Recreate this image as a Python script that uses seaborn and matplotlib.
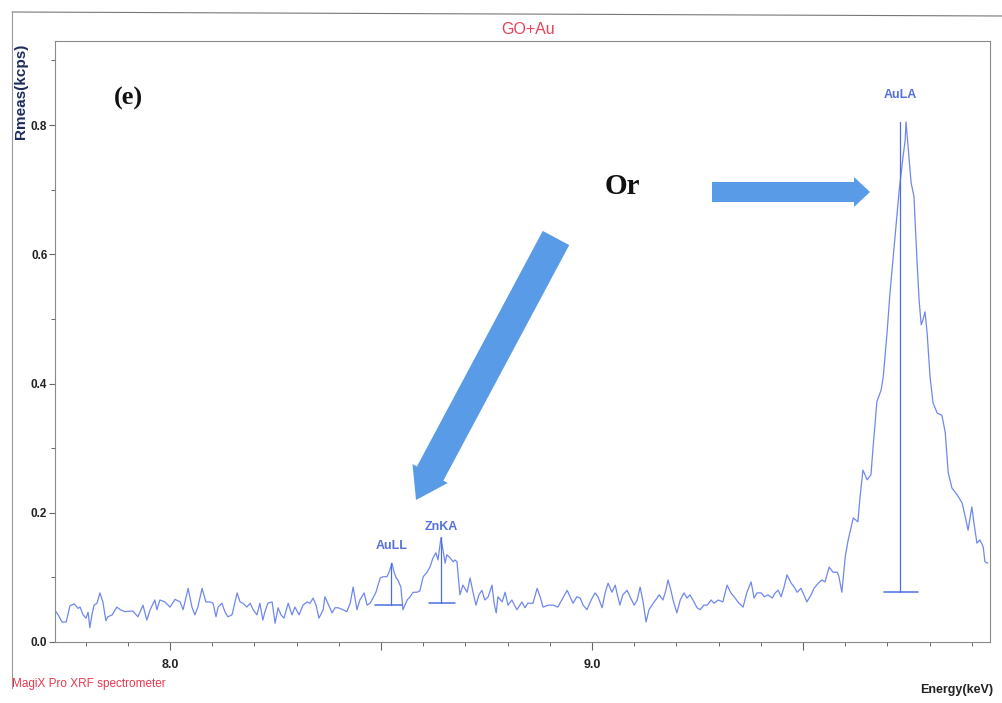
import matplotlib
matplotlib.use("Agg")
import matplotlib.pyplot as plt
import seaborn as sns
import pandas as pd
from matplotlib.patches import FancyArrow
from matplotlib.lines import Line2D
from matplotlib.transforms import Affine2D
from matplotlib.ticker import MultipleLocator, FixedLocator, FixedFormatter

# ---------------- data ----------------
energy_kev = [
    7.725, 7.735, 7.744, 7.754, 7.763, 7.773, 7.782, 7.787, 7.794, 7.801,
    7.806, 7.810, 7.815, 7.820, 7.827, 7.834, 7.841, 7.848, 7.853, 7.863,
    7.874, 7.882, 7.893, 7.912, 7.924, 7.936, 7.945, 7.953, 7.964, 7.969,
    7.976, 7.988, 8.000, 8.012, 8.024, 8.031, 8.043, 8.052, 8.059, 8.066,
    8.076, 8.085, 8.095, 8.102, 8.109, 8.114, 8.123, 8.130, 8.137, 8.147,
    8.159, 8.166, 8.173, 8.182, 8.190, 8.197, 8.206, 8.213, 8.220, 8.225,
    8.232, 8.242, 8.249, 8.256, 8.263, 8.270, 8.280, 8.289, 8.296, 8.306,
    8.315, 8.325, 8.332, 8.339, 8.346, 8.353, 8.363, 8.367, 8.374, 8.384,
    8.391, 8.398, 8.410, 8.419, 8.427, 8.434, 8.443, 8.450, 8.460, 8.467,
    8.474, 8.481, 8.488, 8.498, 8.505, 8.514, 8.519, 8.526, 8.531, 8.536,
    8.540, 8.547, 8.552, 8.562, 8.569, 8.576, 8.585, 8.592, 8.600, 8.609,
    8.616, 8.623, 8.630, 8.635, 8.642, 8.647, 8.652, 8.656, 8.664, 8.671,
    8.675, 8.680, 8.687, 8.694, 8.704, 8.711, 8.718, 8.725, 8.732, 8.739,
    8.746, 8.754, 8.763, 8.768, 8.773, 8.777, 8.787, 8.794, 8.801, 8.810,
    8.822, 8.834, 8.841, 8.848, 8.860, 8.870, 8.877, 8.884, 8.896, 8.908,
    8.919, 8.931, 8.941, 8.948, 8.955, 8.964, 8.972, 8.979, 8.988, 8.998,
    9.007, 9.014, 9.024, 9.031, 9.038, 9.047, 9.055, 9.059, 9.066, 9.073,
    9.083, 9.090, 9.100, 9.107, 9.114, 9.121, 9.128, 9.135, 9.145, 9.154,
    9.159, 9.168, 9.175, 9.180, 9.187, 9.192, 9.201, 9.209, 9.218, 9.225,
    9.232, 9.239, 9.249, 9.256, 9.265, 9.273, 9.282, 9.289, 9.299, 9.310,
    9.320, 9.329, 9.339, 9.348, 9.358, 9.367, 9.377, 9.384, 9.391, 9.401,
    9.408, 9.417, 9.427, 9.434, 9.441, 9.448, 9.455, 9.462, 9.472, 9.479,
    9.486, 9.495, 9.502, 9.509, 9.519, 9.526, 9.536, 9.545, 9.552, 9.562,
    9.571, 9.581, 9.585, 9.592, 9.600, 9.607, 9.619, 9.630, 9.635, 9.642,
    9.652, 9.661, 9.666, 9.675, 9.685, 9.690, 9.699, 9.706, 9.713, 9.720,
    9.728, 9.737, 9.742, 9.744, 9.749, 9.756, 9.763, 9.765, 9.770, 9.775,
    9.780, 9.784, 9.789, 9.794, 9.801, 9.808, 9.818, 9.829, 9.837, 9.844,
    9.853, 9.865, 9.877, 9.886, 9.891, 9.900, 9.905, 9.912, 9.919, 9.927,
    9.931, 9.938,
]
rmeas_kcps = [
    0.051, 0.042, 0.031, 0.031, 0.056, 0.059, 0.052, 0.054, 0.042, 0.037,
    0.046, 0.022, 0.042, 0.057, 0.060, 0.076, 0.062, 0.033, 0.039, 0.042,
    0.054, 0.050, 0.047, 0.048, 0.039, 0.057, 0.034, 0.050, 0.065, 0.050,
    0.065, 0.062, 0.054, 0.066, 0.062, 0.050, 0.083, 0.054, 0.042, 0.054,
    0.083, 0.062, 0.062, 0.060, 0.039, 0.054, 0.060, 0.047, 0.039, 0.042,
    0.076, 0.062, 0.060, 0.054, 0.060, 0.050, 0.042, 0.060, 0.034, 0.047,
    0.060, 0.062, 0.029, 0.053, 0.042, 0.037, 0.060, 0.042, 0.054, 0.042,
    0.057, 0.062, 0.060, 0.068, 0.057, 0.037, 0.050, 0.070, 0.060, 0.045,
    0.053, 0.053, 0.050, 0.047, 0.060, 0.085, 0.050, 0.065, 0.076, 0.057,
    0.060, 0.068, 0.077, 0.099, 0.101, 0.101, 0.108, 0.122, 0.108, 0.099,
    0.096, 0.085, 0.050, 0.065, 0.070, 0.077, 0.077, 0.079, 0.101, 0.108,
    0.116, 0.130, 0.138, 0.127, 0.161, 0.142, 0.122, 0.135, 0.130, 0.124,
    0.127, 0.124, 0.073, 0.088, 0.077, 0.099, 0.077, 0.057, 0.073, 0.080,
    0.065, 0.070, 0.088, 0.060, 0.045, 0.070, 0.062, 0.077, 0.057, 0.065,
    0.050, 0.062, 0.053, 0.060, 0.060, 0.083, 0.070, 0.054, 0.057, 0.057,
    0.054, 0.068, 0.080, 0.070, 0.060, 0.070, 0.068, 0.057, 0.050, 0.065,
    0.076, 0.070, 0.053, 0.076, 0.091, 0.077, 0.088, 0.076, 0.057, 0.073,
    0.080, 0.070, 0.057, 0.065, 0.085, 0.062, 0.031, 0.050, 0.060, 0.068,
    0.073, 0.065, 0.080, 0.096, 0.080, 0.065, 0.045, 0.065, 0.076, 0.068,
    0.073, 0.065, 0.053, 0.050, 0.057, 0.057, 0.065, 0.060, 0.065, 0.062,
    0.088, 0.076, 0.068, 0.060, 0.054, 0.077, 0.093, 0.068, 0.076, 0.076,
    0.070, 0.073, 0.068, 0.076, 0.080, 0.070, 0.085, 0.104, 0.091, 0.085,
    0.077, 0.083, 0.073, 0.062, 0.073, 0.083, 0.091, 0.096, 0.093, 0.116,
    0.108, 0.108, 0.101, 0.077, 0.132, 0.158, 0.192, 0.186, 0.224, 0.266,
    0.251, 0.259, 0.302, 0.372, 0.390, 0.410, 0.478, 0.540, 0.591, 0.642,
    0.700, 0.751, 0.777, 0.805, 0.766, 0.711, 0.689, 0.658, 0.591, 0.529,
    0.491, 0.498, 0.511, 0.478, 0.410, 0.370, 0.354, 0.351, 0.324, 0.262,
    0.238, 0.228, 0.215, 0.189, 0.173, 0.209, 0.184, 0.153, 0.158, 0.147,
    0.124, 0.122,
]

peak_labels = ["AuLL", "ZnKA", "AuLA"]
peak_energy = [8.524, 8.642, 9.730]
peak_top = [0.122, 0.163, 0.805]
peak_base = [0.057, 0.060, 0.077]
peak_bar_left = [8.486, 8.614, 9.692]
peak_bar_right = [8.550, 8.675, 9.773]
peak_label_y = [0.149, 0.178, 0.847]

x_major = [8.0, 8.5, 9.0, 9.5]
x_major_labels = ["8.0", "", "9.0", ""]
y_major = [0.0, 0.2, 0.4, 0.6, 0.8]
y_major_labels = ["0.0", "0.2", "0.4", "0.6", "0.8"]

title_text = "GO+Au"
ylabel_text = "Rmeas(kcps)"
xlabel_text = "Energy(keV)"
footer_text = "MagiX Pro XRF spectrometer"
panel_text = "(e)"
or_text = "Or"

# ---------------- style ----------------
sns.set_theme(style="white")
NARROW = ["Liberation Sans Narrow", "Liberation Sans", "DejaVu Sans"]
SERIF = ["Liberation Serif", "DejaVu Serif"]
plt.rcParams["font.family"] = NARROW

W, H = 1002, 703
fig = plt.figure(figsize=(W / 100, H / 100), dpi=100)
fig.patch.set_facecolor("white")
PX = Affine2D().scale(1 / W, -1 / H).translate(0, 1) + fig.transFigure

ax = fig.add_axes([55 / W, 1 - 642 / H, (990 - 55) / W, (642 - 41) / H])

LINE_C = "#6f88ee"
MARK_C = "#4c6fe0"
df = pd.DataFrame({"Energy": energy_kev, "Rmeas": rmeas_kcps})
sns.lineplot(data=df, x="Energy", y="Rmeas", ax=ax, color=LINE_C, lw=0.9,
             estimator=None, sort=False)

# peak markers
for lab, e, top, base, bl, br, ly in zip(peak_labels, peak_energy, peak_top,
                                         peak_base, peak_bar_left, peak_bar_right,
                                         peak_label_y):
    ax.plot([e, e], [base, top], color=MARK_C, lw=0.9)
    ax.plot([bl, br], [base, base], color=MARK_C, lw=1.1)
    ax.text(e, ly, lab, color="#5670e0", fontsize=9, fontweight="bold",
            ha="center", va="center", family=NARROW)

ax.set_xlim(7.7275, 9.943)
ax.set_ylim(0.0, 0.93)
ax.set_xlabel("")
ax.set_ylabel("")

ax.xaxis.set_major_locator(FixedLocator(x_major))
ax.xaxis.set_major_formatter(FixedFormatter(x_major_labels))
ax.xaxis.set_minor_locator(MultipleLocator(0.1))
ax.yaxis.set_major_locator(FixedLocator(y_major))
ax.yaxis.set_major_formatter(FixedFormatter(y_major_labels))
ax.yaxis.set_minor_locator(MultipleLocator(0.1))
ax.tick_params(axis="x", which="major", direction="out", length=6, width=0.8,
               color="#666666", labelsize=9, labelcolor="#222222", pad=6,
               bottom=True)
ax.tick_params(axis="y", which="major", direction="out", length=4, width=0.8,
               color="#666666", labelsize=8.5, labelcolor="#222222", pad=1.5,
               left=True)
ax.tick_params(axis="both", which="minor", direction="out", length=3, width=0.7,
               color="#666666", bottom=True, left=True)
for lbl in ax.get_xticklabels() + ax.get_yticklabels():
    lbl.set_fontweight("bold")
for s in ax.spines.values():
    s.set_color("#8a8a8a")
    s.set_linewidth(0.8)
    s.set_visible(True)
ax.grid(False)

# outer frame (top & left)
fig.add_artist(Line2D([12, 1002], [12, 16], transform=PX, color="#777777", lw=0.8))
fig.add_artist(Line2D([12, 12], [12, 688], transform=PX, color="#999999", lw=0.8))

# texts
fig.text(528, 30, title_text, transform=PX, color="#e8415a", fontsize=11.5,
         ha="center", va="center", family=NARROW)
fig.text(21, 91, ylabel_text, transform=PX, color="#1e2b5c", fontsize=11,
         fontweight="bold", rotation=90, ha="center", va="center", family=NARROW)
fig.text(993, 690, xlabel_text, transform=PX, color="#222222", fontsize=9,
         fontweight="bold", ha="right", va="center", family=NARROW)
fig.text(12, 684, footer_text, transform=PX, color="#e8384f", fontsize=8.5,
         ha="left", va="center", family=NARROW)
fig.text(128, 98, panel_text, transform=PX, color="#111111", fontsize=19,
         fontweight="bold", ha="center", va="center", family=SERIF)
fig.text(622, 186, or_text, transform=PX, color="#111111", fontsize=21,
         fontweight="bold", ha="center", va="center", family=SERIF)

# blue arrows
ARROW_C = "#5a9be8"
fig.add_artist(FancyArrow(712, 192, 158, 0, width=20, head_width=30,
                          head_length=16, length_includes_head=True,
                          transform=PX, color=ARROW_C, lw=0))
fig.add_artist(FancyArrow(556, 238, -140, 262, width=30, head_width=40,
                          head_length=30, length_includes_head=True,
                          transform=PX, color=ARROW_C, lw=0))

fig.savefig("out.png", dpi=100, facecolor="white")
